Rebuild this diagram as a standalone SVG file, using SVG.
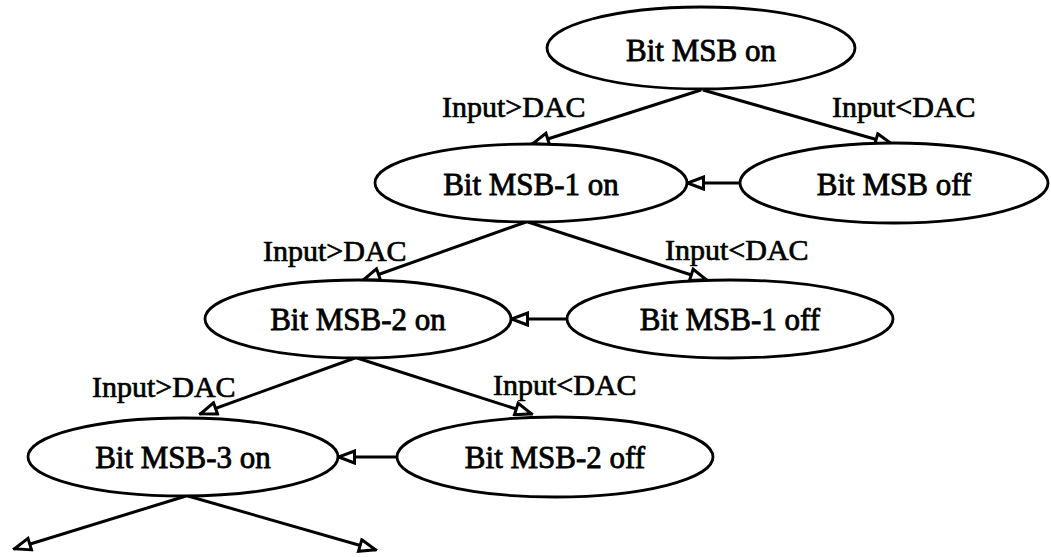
<svg xmlns="http://www.w3.org/2000/svg" width="1051" height="557" viewBox="0 0 1051 557">
  <style>
    .node ellipse { fill: #fff; stroke: #000; stroke-width: 2.8; }
    .node text { font-family: "Liberation Serif", "Times New Roman", serif; font-size: 31px; fill: #000; stroke: #000; stroke-width: 0.8; text-anchor: middle; }
    .edge { stroke: #000; stroke-width: 3; fill: none; marker-end: url(#tri); }
    .lbl { font-family: "Liberation Serif", "Times New Roman", serif; font-size: 30px; fill: #000; stroke: #000; stroke-width: 0.7; }
  </style>
  <defs>
    <!-- hollow triangular arrowhead shared by all connectors -->
    <marker id="tri" viewBox="0 0 20 16" refX="18.5" refY="8" markerWidth="20" markerHeight="16" markerUnits="userSpaceOnUse" orient="auto">
      <path d="M2,2 L18,8 L2,14 Z" fill="#fff" stroke="#000" stroke-width="3" stroke-linejoin="miter"/>
    </marker>
  </defs>
  <rect width="1051" height="557" fill="#fff"/>

  <g id="connectors">
    <line class="edge" x1="701" y1="90" x2="532" y2="144"/>
    <line class="edge" x1="703" y1="90" x2="892" y2="144"/>
    <line class="edge" x1="740" y1="183" x2="687" y2="183"/>
    <line class="edge" x1="526" y1="222" x2="363" y2="280"/>
    <line class="edge" x1="528" y1="222" x2="707" y2="280"/>
    <line class="edge" x1="567" y1="319" x2="511" y2="319"/>
    <line class="edge" x1="355" y1="358" x2="200" y2="414"/>
    <line class="edge" x1="357" y1="358" x2="532" y2="414"/>
    <line class="edge" x1="397" y1="457" x2="338" y2="457"/>
    <line class="edge" x1="186" y1="496" x2="14" y2="549"/>
    <line class="edge" x1="188" y1="496" x2="376" y2="550"/>
  </g>

  <g id="labels">
    <text class="lbl" x="442" y="117">Input&gt;DAC</text>
    <text class="lbl" x="832" y="117">Input&lt;DAC</text>
    <text class="lbl" x="263" y="261">Input&gt;DAC</text>
    <text class="lbl" x="665" y="260">Input&lt;DAC</text>
    <text class="lbl" x="92" y="397">Input&gt;DAC</text>
    <text class="lbl" x="493" y="395">Input&lt;DAC</text>
  </g>

  <g id="msb-on" class="node">
    <ellipse cx="701" cy="48" rx="154" ry="41"/>
    <text x="701" y="61">Bit MSB on</text>
  </g>
  <g id="msb1-on" class="node">
    <ellipse cx="531" cy="183" rx="156" ry="39"/>
    <text x="531" y="195">Bit MSB-1 on</text>
  </g>
  <g id="msb-off" class="node">
    <ellipse cx="894" cy="183" rx="154" ry="40"/>
    <text x="894" y="195">Bit MSB off</text>
  </g>
  <g id="msb2-on" class="node">
    <ellipse cx="358" cy="319" rx="153" ry="39"/>
    <text x="358" y="330">Bit MSB-2 on</text>
  </g>
  <g id="msb1-off" class="node">
    <ellipse cx="730" cy="319" rx="163" ry="39"/>
    <text x="730" y="330">Bit MSB-1 off</text>
  </g>
  <g id="msb3-on" class="node">
    <ellipse cx="183" cy="457" rx="155" ry="39"/>
    <text x="183" y="468">Bit MSB-3 on</text>
  </g>
  <g id="msb2-off" class="node">
    <ellipse cx="555" cy="457" rx="158" ry="40"/>
    <text x="555" y="468">Bit MSB-2 off</text>
  </g>
</svg>
